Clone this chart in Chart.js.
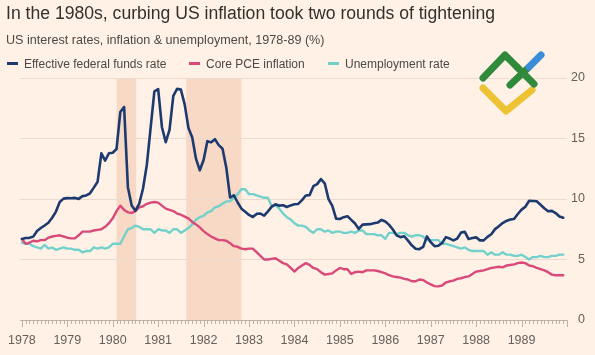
<!DOCTYPE html>
<html><head><meta charset="utf-8">
<script src="https://cdn.jsdelivr.net/npm/chart.js@4.4.1/dist/chart.umd.min.js"></script>
<style>
html,body{margin:0;padding:0;background:#FFF1E5;}
#wrap{position:relative;width:595px;height:355px;overflow:hidden;background:#FFF1E5;font-family:"Liberation Sans",Arial,sans-serif;}
#title{position:absolute;left:6px;top:3px;font-size:17.6px;color:#33302E;white-space:nowrap;}
#sub{position:absolute;left:6px;top:33px;font-size:12.6px;color:#4D4845;white-space:nowrap;}
.item{position:absolute;top:57px;font-size:12px;color:#4D4845;white-space:nowrap;}
.sw{display:inline-block;width:11px;height:3px;vertical-align:middle;margin-right:6px;position:relative;top:-1px;}
canvas{position:absolute;left:0;top:0;}
#logo{position:absolute;left:470px;top:40px;}
</style></head>
<body>
<div id="wrap">
  <canvas id="c" width="595" height="355"></canvas>
  <div id="title">In the 1980s, curbing US inflation took two rounds of tightening</div>
  <div id="sub">US interest rates, inflation &amp; unemployment, 1978-89 (%)</div>
  <div class="item" style="left:7px"><span class="sw" style="background:#1D3A70"></span>Effective federal funds rate</div>
  <div class="item" style="left:189px"><span class="sw" style="background:#D9497A"></span>Core PCE inflation</div>
  <div class="item" style="left:328px"><span class="sw" style="background:#6FD0C9"></span>Unemployment rate</div>
  <svg id="logo" width="90" height="85" viewBox="0 0 90 85">
    <g fill="none" stroke-linecap="round" stroke-linejoin="round" stroke-width="7">
      <polyline points="13,48 36,71 62,50" stroke="#EDC233"/>
      <polyline points="13,38 35,15 47,27" stroke="#2F8A3B"/>
      <line x1="40" y1="45" x2="58" y2="28" stroke="#2F8A3B"/>
      <line x1="47" y1="27" x2="64" y2="44" stroke="#2F8A3B"/>
      <line x1="59" y1="27" x2="71" y2="15" stroke="#3A8ED8"/>
    </g>
  </svg>
</div>
<script>
const startYear = 1978;
const yearLabels = ['1978','1979','1980','1981','1982','1983','1984','1985','1986','1987','1988','1989'];
const seriesNames = ['Effective federal funds rate', 'Core PCE inflation', 'Unemployment rate'];

// monthly values, Jan 1978 - Dec 1989
const fedFunds = [
  6.70, 6.78, 6.79, 6.89, 7.36, 7.60, 7.81, 8.04, 8.45, 8.96, 9.76, 10.03,
  10.07, 10.06, 10.09, 10.01, 10.24, 10.29, 10.47, 10.94, 11.43, 13.77, 13.18, 13.78,
  13.82, 14.13, 17.19, 17.61, 10.98, 9.47, 9.03, 9.61, 10.87, 12.81, 15.85, 18.90,
  19.08, 15.93, 14.70, 15.72, 18.52, 19.10, 19.04, 17.82, 15.87, 15.08, 13.31, 12.37,
  13.22, 14.78, 14.68, 14.94, 14.45, 14.15, 12.59, 10.12, 10.31, 9.71, 9.20, 8.95,
  8.68, 8.51, 8.77, 8.80, 8.63, 8.98, 9.37, 9.56, 9.45, 9.48, 9.34, 9.47,
  9.56, 9.59, 9.91, 10.29, 10.32, 11.06, 11.23, 11.64, 11.30, 9.99, 9.43, 8.38,
  8.35, 8.50, 8.58, 8.27, 7.97, 7.53, 7.88, 7.90, 7.92, 7.99, 8.05, 8.27,
  8.14, 7.86, 7.48, 6.99, 6.85, 6.92, 6.56, 6.17, 5.89, 5.85, 6.04, 6.91,
  6.43, 6.10, 6.13, 6.37, 6.85, 6.73, 6.58, 6.73, 7.22, 7.29, 6.69, 6.77,
  6.83, 6.58, 6.58, 6.87, 7.09, 7.51, 7.75, 8.01, 8.19, 8.30, 8.35, 8.76,
  9.12, 9.36, 9.85, 9.84, 9.81, 9.53, 9.24, 8.99, 9.02, 8.84, 8.55, 8.45
];
const corePCE = [
  6.70, 6.30, 6.40, 6.55, 6.50, 6.60, 6.60, 6.80, 6.90, 6.95, 7.00, 6.90,
  6.80, 6.75, 6.75, 7.00, 7.30, 7.30, 7.30, 7.40, 7.45, 7.50, 7.70, 8.00,
  8.40, 9.00, 9.45, 9.10, 8.90, 8.85, 9.00, 9.30, 9.40, 9.60, 9.70, 9.75,
  9.70, 9.45, 9.20, 9.10, 9.00, 8.80, 8.70, 8.55, 8.40, 8.10, 7.90, 7.65,
  7.35, 7.10, 6.90, 6.75, 6.60, 6.60, 6.55, 6.35, 6.10, 6.05, 5.90, 5.85,
  5.90, 5.90, 5.60, 5.30, 5.00, 5.00, 5.05, 5.10, 4.90, 4.70, 4.60, 4.30,
  4.00, 4.30, 4.50, 4.70, 4.55, 4.30, 4.20, 3.95, 3.75, 3.80, 3.85, 4.10,
  4.30, 4.20, 4.20, 3.80, 3.95, 4.00, 3.95, 4.10, 4.10, 4.10, 4.05, 3.95,
  3.85, 3.70, 3.60, 3.55, 3.50, 3.40, 3.35, 3.20, 3.20, 3.35, 3.30, 3.10,
  2.95, 2.80, 2.78, 2.85, 3.10, 3.20, 3.25, 3.40, 3.45, 3.55, 3.60, 3.80,
  4.00, 4.05, 4.10, 4.20, 4.30, 4.35, 4.40, 4.35, 4.50, 4.55, 4.60, 4.70,
  4.75, 4.70, 4.50, 4.45, 4.30, 4.20, 4.10, 3.95, 3.75, 3.70, 3.70, 3.70
];
const unemployment = [
  6.4, 6.3, 6.3, 6.1, 6.0, 5.9, 6.2, 5.9, 6.0, 5.8, 5.9, 6.0,
  5.9, 5.9, 5.8, 5.8, 5.6, 5.7, 5.7, 6.0, 5.9, 6.0, 5.9, 6.0,
  6.3, 6.3, 6.3, 6.9, 7.5, 7.6, 7.8, 7.7, 7.5, 7.5, 7.5, 7.2,
  7.5, 7.4, 7.4, 7.2, 7.5, 7.5, 7.2, 7.4, 7.6, 7.9, 8.3, 8.5,
  8.6, 8.9, 9.0, 9.3, 9.4, 9.6, 9.8, 9.8, 10.1, 10.4, 10.8, 10.8,
  10.4, 10.4, 10.3, 10.2, 10.1, 10.1, 9.4, 9.5, 9.2, 8.8, 8.5, 8.3,
  8.0, 7.8, 7.8, 7.7, 7.4, 7.2, 7.5, 7.5, 7.3, 7.4, 7.2, 7.3,
  7.3, 7.2, 7.2, 7.3, 7.2, 7.4, 7.4, 7.1, 7.1, 7.1, 7.0, 7.0,
  6.7, 7.2, 7.2, 7.1, 7.2, 7.2, 7.0, 6.9, 7.0, 7.0, 6.9, 6.6,
  6.6, 6.6, 6.6, 6.3, 6.3, 6.2, 6.1, 6.0, 5.9, 6.0, 5.8, 5.7,
  5.7, 5.7, 5.7, 5.4, 5.6, 5.4, 5.4, 5.6, 5.4, 5.4, 5.3, 5.3,
  5.4, 5.2, 5.0, 5.2, 5.2, 5.3, 5.2, 5.2, 5.3, 5.3, 5.4, 5.4
];
// recession shading, in months since Jan 1978
const recessionStart = [25, 43.4];
const recessionEnd = [30.2, 58];

const FONT = '"Liberation Sans", Arial, sans-serif';
const toPoints = arr => arr.map((v, i) => ({x: i, y: v}));

const decor = {
  id: 'decor',
  beforeDraw(chart) {
    const {ctx, chartArea, scales: {x}} = chart;
    ctx.save();
    ctx.fillStyle = '#F7D9C5';
    recessionStart.forEach((s, i) => {
      const x0 = x.getPixelForValue(s), x1 = x.getPixelForValue(recessionEnd[i]);
      ctx.fillRect(x0, chartArea.top, x1 - x0, chartArea.bottom - chartArea.top);
    });
    ctx.restore();
  },
  beforeDatasetsDraw(chart) {
    const {ctx, chartArea, scales: {x}} = chart;
    ctx.save();
    ctx.strokeStyle = '#BDB2A8';
    ctx.lineWidth = 1;
    ctx.beginPath();
    for (let m = 0; m <= yearLabels.length * 12; m++) {
      const px = Math.round(x.getPixelForValue(m)) + 0.5;
      const len = (m % 12 === 0) ? 7 : 4;
      ctx.moveTo(px, chartArea.bottom);
      ctx.lineTo(px, chartArea.bottom + len);
    }
    ctx.stroke();
    ctx.restore();
  }
};

new Chart(document.getElementById('c'), {
  type: 'line',
  data: {
    datasets: [
      {label: seriesNames[0], data: toPoints(fedFunds), borderColor: '#1D3A70', borderWidth: 2.6},
      {label: seriesNames[1], data: toPoints(corePCE), borderColor: '#D9497A', borderWidth: 2.4},
      {label: seriesNames[2], data: toPoints(unemployment), borderColor: '#72D1CA', borderWidth: 2.4}
    ]
  },
  options: {
    responsive: false,
    animation: false,
    devicePixelRatio: 1,
    layout: {padding: {left: 20, top: 78, right: 10, bottom: 0}},
    elements: {
      point: {radius: 0},
      line: {tension: 0, borderJoinStyle: 'round', borderCapStyle: 'round'}
    },
    plugins: {legend: {display: false}, tooltip: {enabled: false}},
    scales: {
      x: {
        type: 'linear', min: -0.5, max: 144,
        grid: {display: false}, border: {display: false},
        afterBuildTicks: s => { s.ticks = yearLabels.map((_, i) => ({value: i * 12})); },
        afterFit: s => { s.height = 35; },
        ticks: {autoSkip: false, maxRotation: 0, padding: 5, color: '#66605C',
          font: {size: 12.5, family: FONT},
          callback: (v, i) => yearLabels[i]}
      },
      y: {
        position: 'right', min: 0, max: 20,
        afterFit: s => { s.width = 18; },
        grid: {drawTicks: false, lineWidth: 1,
          color: c => (c.tick && c.tick.value === 0) ? '#BDB2A8' : '#EADBCE'},
        border: {display: false},
        ticks: {stepSize: 5, padding: 5, crossAlign: 'far', color: '#66605C',
          font: {size: 12.5, family: FONT}}
      }
    }
  },
  plugins: [decor]
});
</script>
</body></html>
